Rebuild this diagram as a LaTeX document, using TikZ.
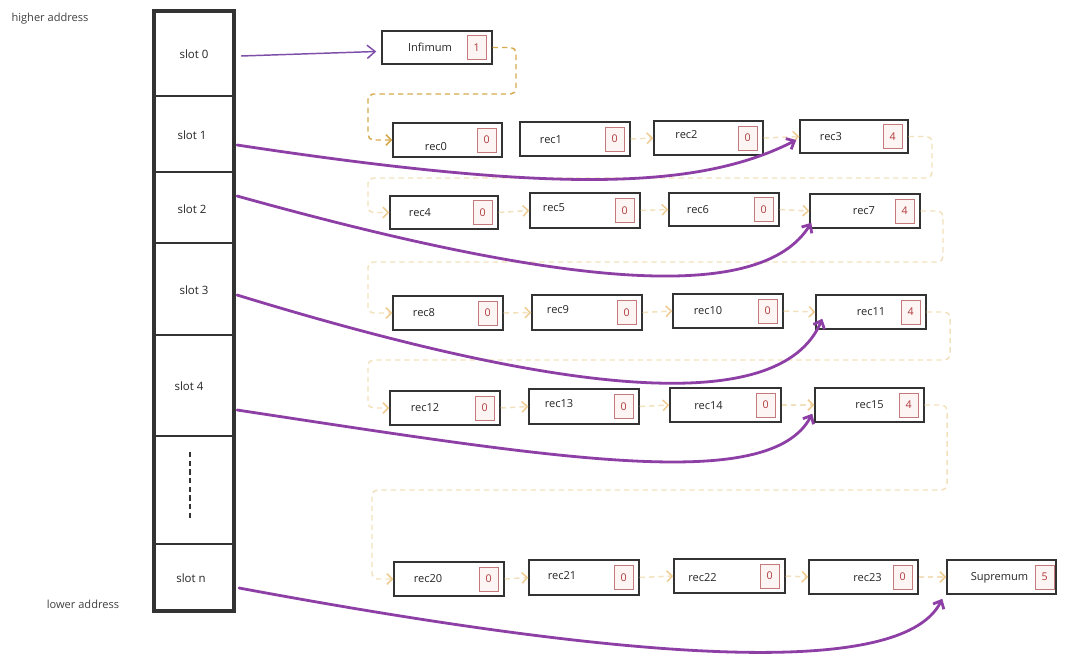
\documentclass[tikz,border=0pt]{standalone}
\usepackage{fontspec}
\setmainfont{Open Sans}
\usetikzlibrary{arrows.meta,calc,fit}
\definecolor{boxline}{HTML}{333333}
\definecolor{numline}{HTML}{C47A7A}
\definecolor{numfill}{HTML}{FDF4F4}
\definecolor{numtext}{HTML}{B03A3A}
\definecolor{ptr}{HTML}{8E3FA6}
\definecolor{ptrthin}{HTML}{7E4FA8}
\definecolor{gold}{HTML}{D6AA4E}
\definecolor{pale}{HTML}{F2E1BC}
\definecolor{palehead}{HTML}{EECB90}
\tikzset{
  recbox/.style={draw=boxline, line width=1.1pt, inner sep=0pt, fill=white},
  numbox/.style={draw=numline, line width=0.6pt, fill=numfill, minimum width=14pt, minimum height=18pt, inner sep=0pt, text=numtext, font=\fontsize{8}{9}\selectfont},
  lbl/.style={inner sep=0pt, text=black!85, font=\fontsize{8.3}{10}\selectfont},
  slotbox/.style={draw=boxline, line width=1.6pt, inner sep=0pt},
  slotlbl/.style={inner sep=0pt, text=black!85, font=\fontsize{8.6}{10}\selectfont},
  sidelbl/.style={inner sep=0pt, text=black!75, font=\fontsize{8.3}{10}\selectfont},
  ptrline/.style={draw=ptr, line width=2.1pt, line cap=round, -{Straight Barb[length=5pt,width=9pt]}},
  ptrthinline/.style={draw=ptrthin, line width=1.1pt, -{Straight Barb[length=6pt,width=10pt]}},
  goldline/.style={draw=gold, line width=1.1pt, dash pattern=on 4pt off 3pt, rounded corners=4pt, -{Straight Barb[length=4pt,width=8pt]}},
  paleline/.style={draw=pale, line width=1.1pt, dash pattern=on 4pt off 3pt, rounded corners=4pt, -{Straight Barb[length=4pt,width=8pt,color=palehead]}},
}
\newcommand\mkrec[9]{%
  \node[recbox, fit={(#2,#3)(#4,#5)}] (#1) {};
  \node[lbl] (#1-t) at ($(#1.center)+(#7,#8)$) {#6};
  \node[numbox] (#1-n) at ($(#1.east)+(-16,0)$) {#9};
}
\begin{document}
\begin{tikzpicture}[x=0.75pt,y=-0.75pt]
\useasboundingbox[fill=white] (0,0) rectangle (1080,667);

% side labels
\node[sidelbl] (hi) at (50,19) {higher address};
\node[sidelbl] (lo) at (83,604) {lower address};

% slot column
\node[slotbox, fit={(155,12)(233,96)}] (slot0) {};
\node[slotbox, fit={(155,96)(233,172)}] (slot1) {};
\node[slotbox, fit={(155,172)(233,243)}] (slot2) {};
\node[slotbox, fit={(155,243)(233,335)}] (slot3) {};
\node[slotbox, fit={(155,335)(233,436)}] (slot4) {};
\node[slotbox, fit={(155,436)(233,544)}] (slotd) {};
\node[slotbox, fit={(155,544)(233,610)}] (slotn) {};
\node[draw=boxline, line width=2.2pt, inner sep=0pt, fit=(slot0)(slotn)] (col) {};
\node[slotlbl] (slot0-t) at (194,54) {slot 0};
\node[slotlbl] (slot1-t) at (192,135) {slot 1};
\node[slotlbl] (slot2-t) at (192,209) {slot 2};
\node[slotlbl] (slot3-t) at (194,290) {slot 3};
\node[slotlbl] (slot4-t) at (189,386) {slot 4};
\node[slotlbl] (slotn-t) at (191,578) {slot n};
\draw[boxline, line width=2pt, dash pattern=on 4pt off 2.5pt] ($(slotd.north)+(-4,17)$) -- ($(slotd.south)+(-4,-25)$);

% records
\mkrec{inf}{382}{31}{492}{64}{Infimum}{-7}{0}{1}
\mkrec{r0}{393}{123}{502}{157}{rec0}{-11.5}{7}{0}
\mkrec{r1}{520}{122}{630}{156}{rec1}{-24}{1}{0}
\mkrec{r2}{654}{121}{763}{155}{rec2}{-22}{-3}{0}
\mkrec{r3}{800}{120}{908}{153}{rec3}{-23}{0}{4}
\mkrec{r4}{390}{196}{498}{229}{rec4}{-24}{0}{0}
\mkrec{r5}{530}{193}{640}{228}{rec5}{-31}{-3}{0}
\mkrec{r6}{669}{193}{779}{226}{rec6}{-26}{0}{0}
\mkrec{r7}{810}{194}{920}{228}{rec7}{-1}{0}{4}
\mkrec{r8}{393}{296}{503}{330}{rec8}{-24}{0}{0}
\mkrec{r9}{532}{295}{642}{330}{rec9}{-29}{-3}{0}
\mkrec{r10}{673}{294}{783}{328}{rec10}{-20}{0}{0}
\mkrec{r11}{816}{295}{926}{329}{rec11}{0}{0}{4}
\mkrec{r12}{390}{391}{500}{425}{rec12}{-20}{0}{0}
\mkrec{r13}{529}{389}{639}{424}{rec13}{-25}{-3}{0}
\mkrec{r14}{670}{388}{781}{422}{rec14}{-17}{1}{0}
\mkrec{r15}{815}{388}{924}{422}{rec15}{0}{0}{4}
\mkrec{r20}{394}{562}{504}{596}{rec20}{-21}{0}{0}
\mkrec{r21}{529}{560}{639}{595}{rec21}{-22}{-2}{0}
\mkrec{r22}{674}{559}{785}{593}{rec22}{-27}{2}{0}
\mkrec{r23}{809}{560}{918}{594}{rec23}{4}{1}{0}
\node[recbox, fit={(947,560)(1056,594)}] (sup) {};
\node[lbl] (sup-t) at ($(sup.center)+(-2,1)$) {Supremum};
\node[numbox] (sup-n) at ($(sup.east)+(-12,0)$) {5};

% next-record links
\draw[goldline] (inf.east) -| (516,94) -- (368,94) |- (r0.west);
\draw[paleline] (r1.east) -- (r2.west);
\draw[paleline] (r2.east) -- (r3.west);
\draw[paleline] (r3.east) -| (932,178) -- (368,178) |- (r4.west);
\draw[paleline] (r4.east) -- (r5.west);
\draw[paleline] (r5.east) -- (r6.west);
\draw[paleline] (r6.east) -- (r7.west);
\draw[paleline] (r7.east) -| (943,262) -- (368,262) |- (r8.west);
\draw[paleline] (r8.east) -- (r9.west);
\draw[paleline] (r9.east) -- (r10.west);
\draw[paleline] (r10.east) -- (r11.west);
\draw[paleline] (r11.east) -| (950,360) -- (368,360) |- (r12.west);
\draw[paleline] (r12.east) -- (r13.west);
\draw[paleline] (r13.east) -- (r14.west);
\draw[paleline] (r14.east) -- (r15.west);
\draw[paleline] (r15.east) -| (947,490) -- (372,490) |- (r20.west);
\draw[paleline] (r20.east) -- (r21.west);
\draw[paleline] (r21.east) -- (r22.west);
\draw[paleline] (r22.east) -- (r23.west);
\draw[paleline] (r23.east) -- (sup.west);

% slot pointers
\draw[ptrthinline] ($(slot0.east)+(7,2)$) -- ($(inf.west)+(-5,4)$);
\draw[ptrline] ($(slot1.east)+(3,11)$) .. controls (560,194) and (700,189) .. ($(r3.west)+(-3,3.5)$);
\draw[ptrline] ($(slot2.east)+(3,-11.5)$) .. controls (560,286) and (760,306) .. ($(r7.south west)+(2,-6)$);
\draw[ptrline] ($(slot3.east)+(3,6)$) .. controls (560,394) and (780,419) .. ($(r11.south west)+(7,-11)$);
\draw[ptrline] ($(slot4.east)+(3,24.5)$) .. controls (560,459) and (770,494) .. ($(r15.south west)+(-2,-9)$);
\draw[ptrline] ($(slotn.east)+(5,11)$) .. controls (600,655) and (900,685) .. ($(sup.south west)+(-4,4)$);
\end{tikzpicture}
\end{document}
